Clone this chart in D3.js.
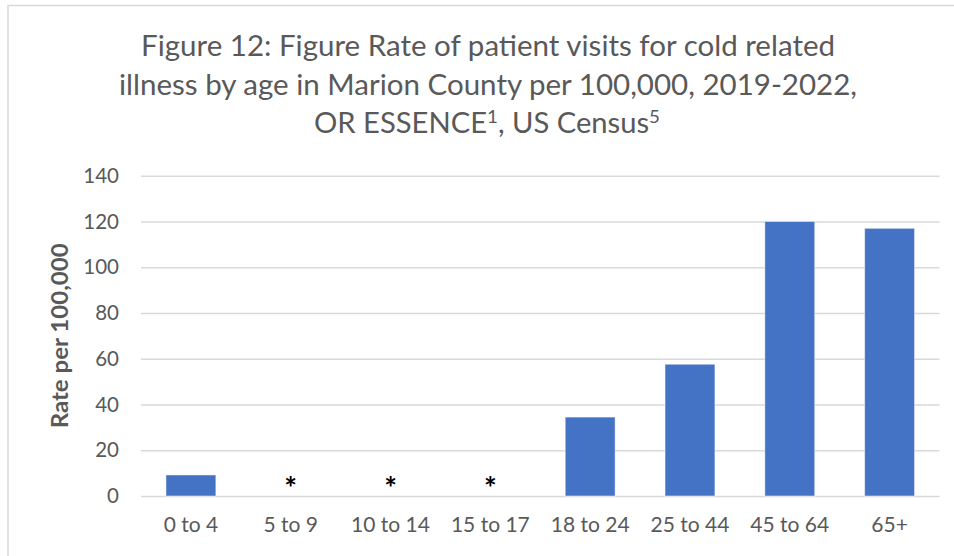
<!DOCTYPE html>
<html lang="en">
  <head>
    <meta charset="UTF-8" />
    <title>Figure 12</title>
    <style>
      body { margin: 0; background: #fff; }
      text { font-family: Lato, "Open Sans", sans-serif; }
    </style>
  </head>
  <body>
    <script src="https://d3js.org/d3.v7.min.js"></script>
    <script>
      // data; null = suppressed (shown as *)
      const categories = ["0 to 4", "5 to 9", "10 to 14", "15 to 17", "18 to 24", "25 to 44", "45 to 64", "65+"];
      const values = [9.2, null, null, null, 34.5, 57.6, 120.0, 117.0];
      const yTicks = [0, 20, 40, 60, 80, 100, 120, 140];
      const titleLines = [
        "Figure 12: Figure Rate of patient visits for cold related",
        "illness by age in Marion County per 100,000, 2019-2022,",
      ];
      const yLabel = "Rate per 100,000";

      const width = 954,
        height = 556;
      const plotLeft = 141,
        plotRight = 939.5,
        plotTop = 175.7,
        plotBottom = 496;
      const grey = "#595959";

      const svg = d3
        .select("body")
        .append("svg")
        .attr("width", width)
        .attr("height", height);

      // chart border (runs off the right and bottom of the page)
      svg
        .append("rect")
        .attr("x", 8)
        .attr("y", 5.5)
        .attr("width", 980)
        .attr("height", 600)
        .attr("fill", "none")
        .attr("stroke", "#d9d9d9")
        .attr("stroke-width", 1.5);

      // title
      const title = svg
        .append("text")
        .attr("text-anchor", "middle")
        .attr("fill", grey)
        .attr("font-size", 28);
      const titleWidths = [694, 738];
      titleLines.forEach((line, i) => {
        title
          .append("tspan")
          .attr("x", 488)
          .attr("y", 56 + i * 38.5)
          .attr("textLength", titleWidths[i])
          .attr("lengthAdjust", "spacingAndGlyphs")
          .text(line);
      });
      const line3 = svg
        .append("text")
        .attr("x", 487)
        .attr("y", 56 + 2 * 38.5)
        .attr("text-anchor", "middle")
        .attr("fill", grey)
        .attr("font-size", 28)
        .attr("textLength", 346)
        .attr("lengthAdjust", "spacingAndGlyphs");
      line3.append("tspan").text("OR ESSENCE");
      line3.append("tspan").attr("font-size", 18).attr("dy", -10).text("1");
      line3.append("tspan").attr("dy", 10).text(", US Census");
      line3.append("tspan").attr("font-size", 18).attr("dy", -10).text("5");

      // scales
      const x = d3
        .scaleBand()
        .domain(categories)
        .range([plotLeft, plotRight])
        .paddingInner(0.5)
        .paddingOuter(0.25);
      const y = d3.scaleLinear().domain([0, 140]).range([plotBottom, plotTop]);

      // y axis + gridlines
      const yAxis = svg
        .append("g")
        .attr("transform", `translate(${plotLeft},0)`)
        .call(
          d3
            .axisLeft(y)
            .tickValues(yTicks)
            .tickSize(-(plotRight - plotLeft))
            .tickPadding(22)
        );
      yAxis.select(".domain").remove();
      yAxis
        .selectAll(".tick line")
        .attr("stroke", "#d9d9d9")
        .attr("stroke-width", 1.5);
      yAxis
        .selectAll(".tick text")
        .attr("fill", grey)
        .attr("font-size", 20.5)
        .attr("font-family", "Lato, sans-serif");

      // bars
      const rows = categories.map((c, i) => ({ name: c, value: values[i] }));
      svg
        .append("g")
        .selectAll("rect")
        .data(rows.filter((d) => d.value !== null))
        .join("rect")
        .attr("x", (d) => x(d.name))
        .attr("y", (d) => y(d.value))
        .attr("width", x.bandwidth())
        .attr("height", (d) => y(0) - y(d.value))
        .attr("fill", "#4472c4")
        .attr("stroke", "#ffffff")
        .attr("stroke-opacity", 0.5)
        .attr("stroke-width", 1);

      // asterisks for suppressed values
      svg
        .append("g")
        .selectAll("text")
        .data(rows.filter((d) => d.value === null))
        .join("text")
        .attr("x", (d) => x(d.name) + x.bandwidth() / 2)
        .attr("y", y(0) + 3)
        .attr("text-anchor", "middle")
        .attr("font-family", "'DejaVu Sans', sans-serif")
        .attr("font-size", 30)
        .attr("font-weight", "bold")
        .attr("fill", "#000")
        .text("*");

      // x axis
      const xAxis = svg
        .append("g")
        .attr("transform", `translate(0,${plotBottom})`)
        .call(d3.axisBottom(x).tickSize(0).tickPadding(21));
      xAxis.select(".domain").remove();
      xAxis
        .selectAll(".tick text")
        .attr("fill", grey)
        .attr("font-size", 21)
        .attr("font-family", "Lato, sans-serif");

      // y axis title
      svg
        .append("text")
        .attr("transform", `translate(68,${(plotTop + plotBottom) / 2}) rotate(-90)`)
        .attr("text-anchor", "middle")
        .attr("fill", grey)
        .attr("font-size", 22)
        .attr("font-weight", "bold")
        .attr("textLength", 185)
        .attr("lengthAdjust", "spacingAndGlyphs")
        .text(yLabel);
    </script>
  </body>
</html>
